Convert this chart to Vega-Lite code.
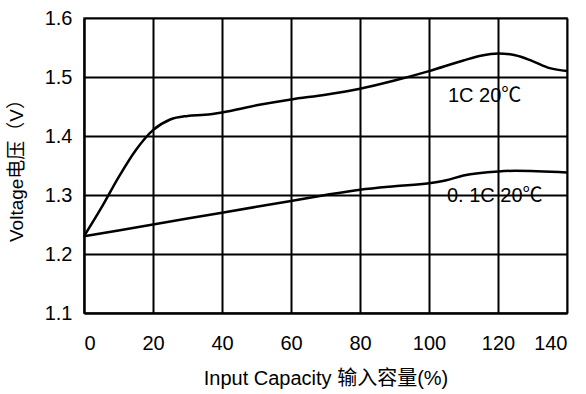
{
  "$schema": "https://vega.github.io/schema/vega-lite/v6.json",
  "autosize": "none",
  "width": 483,
  "height": 295,
  "padding": {"left": 84, "top": 18, "right": 19, "bottom": 81},
  "background": "white",
  "config": {
    "font": "Liberation Sans, Noto Sans CJK SC",
    "view": {"stroke": "#808080", "strokeWidth": 2}
  },
  "datasets": {
    "curves": [
      {"x": 0, "v": 1.23, "s": "1C"},
      {"x": 5, "v": 1.278, "s": "1C"},
      {"x": 10, "v": 1.33, "s": "1C"},
      {"x": 15, "v": 1.376, "s": "1C"},
      {"x": 20, "v": 1.41, "s": "1C"},
      {"x": 25, "v": 1.428, "s": "1C"},
      {"x": 30, "v": 1.434, "s": "1C"},
      {"x": 35, "v": 1.436, "s": "1C"},
      {"x": 40, "v": 1.44, "s": "1C"},
      {"x": 50, "v": 1.452, "s": "1C"},
      {"x": 60, "v": 1.462, "s": "1C"},
      {"x": 70, "v": 1.47, "s": "1C"},
      {"x": 80, "v": 1.48, "s": "1C"},
      {"x": 90, "v": 1.494, "s": "1C"},
      {"x": 100, "v": 1.51, "s": "1C"},
      {"x": 110, "v": 1.528, "s": "1C"},
      {"x": 115, "v": 1.536, "s": "1C"},
      {"x": 120, "v": 1.54, "s": "1C"},
      {"x": 125, "v": 1.537, "s": "1C"},
      {"x": 130, "v": 1.527, "s": "1C"},
      {"x": 135, "v": 1.515, "s": "1C"},
      {"x": 140, "v": 1.51, "s": "1C"},
      {"x": 0, "v": 1.23, "s": "0.1C"},
      {"x": 20, "v": 1.25, "s": "0.1C"},
      {"x": 40, "v": 1.27, "s": "0.1C"},
      {"x": 60, "v": 1.29, "s": "0.1C"},
      {"x": 70, "v": 1.3, "s": "0.1C"},
      {"x": 80, "v": 1.309, "s": "0.1C"},
      {"x": 90, "v": 1.315, "s": "0.1C"},
      {"x": 100, "v": 1.32, "s": "0.1C"},
      {"x": 105, "v": 1.325, "s": "0.1C"},
      {"x": 110, "v": 1.333, "s": "0.1C"},
      {"x": 120, "v": 1.34, "s": "0.1C"},
      {"x": 125, "v": 1.341, "s": "0.1C"},
      {"x": 140, "v": 1.338, "s": "0.1C"}
    ],
    "labels": [
      {"x": 105.5, "v": 1.468, "t": "1C 20℃"},
      {"x": 105.2, "v": 1.2985, "t": "0. 1C 20℃"}
    ]
  },
  "layer": [
    {
      "data": {"name": "curves"},
      "mark": {"type": "line", "color": "black", "strokeWidth": 2.5, "interpolate": "monotone"},
      "encoding": {
        "x": {
          "field": "x", "type": "quantitative",
          "scale": {"domain": [0, 140], "nice": false, "zero": false},
          "axis": {
            "values": [0, 20, 40, 60, 80, 100, 120, 140],
            "title": "Input Capacity 输入容量(%)",
            "titleFontSize": 20, "titleFontWeight": "normal", "titleColor": "black", "titlePadding": 15,
            "labelFontSize": 20, "labelColor": "black", "labelPadding": 20,
            "tickSize": 0, "domainColor": "black", "domainWidth": 2,
            "grid": true, "gridColor": "black", "gridWidth": 2, "gridOpacity": 1
          }
        },
        "y": {
          "field": "v", "type": "quantitative",
          "scale": {"domain": [1.1, 1.6], "nice": false, "zero": false},
          "axis": {
            "values": [1.1, 1.2, 1.3, 1.4, 1.5, 1.6],
            "format": ".1f",
            "title": "Voltage电压（V）",
            "titleFontSize": 19, "titleFontWeight": "normal", "titleColor": "black", "titlePadding": 18,
            "labelFontSize": 20, "labelColor": "black", "labelPadding": 12,
            "tickSize": 0, "domainColor": "black", "domainWidth": 2,
            "grid": true, "gridColor": "black", "gridWidth": 2, "gridOpacity": 1
          }
        },
        "detail": {"field": "s"}
      }
    },
    {
      "data": {"name": "labels"},
      "mark": {"type": "text", "align": "left", "baseline": "middle", "fontSize": 20, "color": "black"},
      "encoding": {
        "x": {"field": "x", "type": "quantitative"},
        "y": {"field": "v", "type": "quantitative"},
        "text": {"field": "t"}
      }
    }
  ]
}
